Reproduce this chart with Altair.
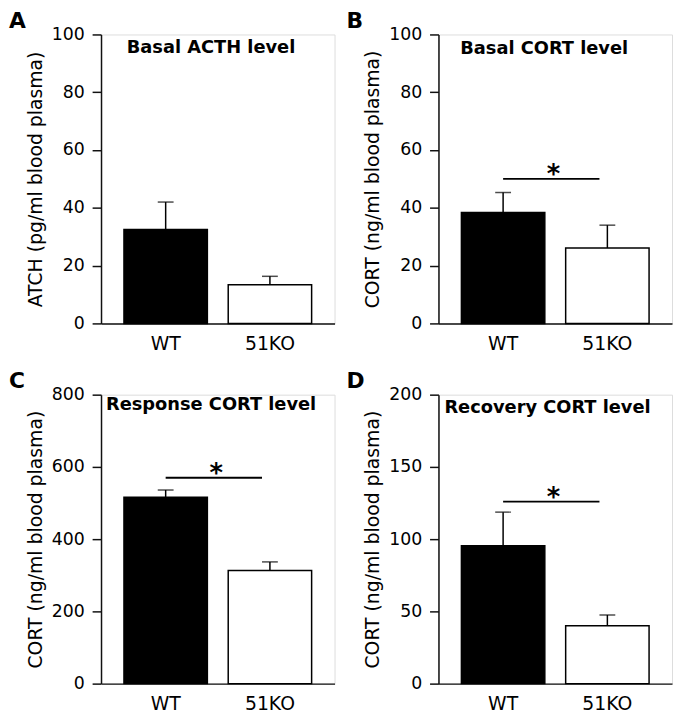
import altair as alt
import pandas as pd

# ---------------- data ----------------
groups = ["WT", "51KO"]
panel_letters = ["A", "B", "C", "D"]
panel_titles = ["Basal ACTH level", "Basal CORT level",
                "Response CORT level", "Recovery CORT level"]
y_titles = ["ATCH (pg/ml blood plasma)", "CORT (ng/ml blood plasma)",
            "CORT (ng/ml blood plasma)", "CORT (ng/ml blood plasma)"]
y_max = [100, 100, 800, 200]
y_ticks = [[0, 20, 40, 60, 80, 100],
           [0, 20, 40, 60, 80, 100],
           [0, 200, 400, 600, 800],
           [0, 50, 100, 150, 200]]
means = [[32.5, 13.4], [38.4, 26.1], [516, 313], [95.4, 40.0]]
errors = [[9.5, 2.9], [6.9, 7.9], [20, 24], [23.3, 7.5]]
sig_level = [None, 50, 570, 126]

# ---------------- layout / style ----------------
FONT = "DejaVu Sans"
W, H = 236, 292
title_offsets = [(26, 19), (22, 20), (5, 15), (6, 19)]


def panel(i):
    df = pd.DataFrame({
        "group": groups,
        "mean": means[i],
        "top": [m + e for m, e in zip(means[i], errors[i])],
    })
    xscale = alt.Scale(domain=groups, paddingInner=0.2, paddingOuter=0.22)
    xaxis = alt.Axis(title=None, ticks=False, tickSize=0, labelAngle=0,
                     bandPosition=0.5, labelAlign="center",
                     labelFontSize=19, labelPadding=20,
                     labelColor="black", domainColor="#111",
                     domainWidth=1.5, labelFont=FONT)
    yscale = alt.Scale(domain=[0, y_max[i]], nice=False, zero=True)
    yaxis = alt.Axis(values=y_ticks[i], tickSize=9, tickWidth=1.5,
                     tickColor="#111", labelPadding=8, titlePadding=6,
                     labelFontSize=17.5, titleFontSize=19,
                     titleFontWeight="normal", labelColor="black",
                     titleColor="black", domainColor="#111", domainWidth=1.5,
                     grid=False, labelFont=FONT, titleFont=FONT)
    base = alt.Chart(df)
    bars = base.mark_bar(stroke="black", strokeWidth=1.5).encode(
        x=alt.X("group:N", scale=xscale, axis=xaxis, sort=None),
        y=alt.Y("mean:Q", scale=yscale, axis=yaxis, title=y_titles[i]),
        fill=alt.Fill("group:N", scale=alt.Scale(domain=groups, range=["black", "white"]),
                      legend=None),
    )
    err = base.mark_rule(color="black", strokeWidth=1.5).encode(
        x=alt.X("group:N", scale=xscale, sort=None),
        y=alt.Y("mean:Q", title=y_titles[i]),
        y2="top:Q",
    )
    cap = base.mark_tick(color="black", thickness=1.5, size=16).encode(
        x=alt.X("group:N", scale=xscale, sort=None),
        y=alt.Y("top:Q", title=y_titles[i]),
    )
    letter = alt.Chart(pd.DataFrame({"t": [panel_letters[i]]})).mark_text(
        align="left", baseline="alphabetic", fontSize=22, fontWeight="bold",
        font=FONT, color="black", x=-93, y=-7,
    ).encode(text="t:N")
    tx, ty = title_offsets[i]
    title = alt.Chart(pd.DataFrame({"t": [panel_titles[i]]})).mark_text(
        align="left", baseline="alphabetic", fontSize=18, fontWeight="bold",
        font=FONT, color="black", x=tx, y=ty,
    ).encode(text="t:N")
    layers = [err, cap, bars, letter, title]
    if sig_level[i] is not None:
        sdf = pd.DataFrame({"a": [groups[0]], "b": [groups[1]], "v": [sig_level[i]]})
        sline = alt.Chart(sdf).mark_rule(color="black", strokeWidth=1.8, x2Offset=-8).encode(
            x=alt.X("a:N", scale=xscale, sort=None),
            x2="b:N",
            y=alt.Y("v:Q", title=y_titles[i]),
        )
        star = alt.Chart(sdf).mark_text(
            text="*", fontSize=26, fontWeight="bold", font=FONT, color="black",
            baseline="alphabetic", align="center", dx=51, dy=4,
        ).encode(
            x=alt.X("a:N", scale=xscale, sort=None),
            y=alt.Y("v:Q", title=y_titles[i]),
        )
        layers += [sline, star]
    return alt.layer(*layers).properties(width=W, height=H)


row1 = alt.hconcat(panel(0), panel(1), spacing=10)
row2 = alt.hconcat(panel(2), panel(3), spacing=10)
chart = alt.vconcat(row1, row2, spacing=15).properties(
    padding={"left": 0, "top": -3, "right": 0, "bottom": 0}
).configure_view(stroke=None).configure(font=FONT)

chart.save("out.html", embed_options={"renderer": "svg", "actions": False})
